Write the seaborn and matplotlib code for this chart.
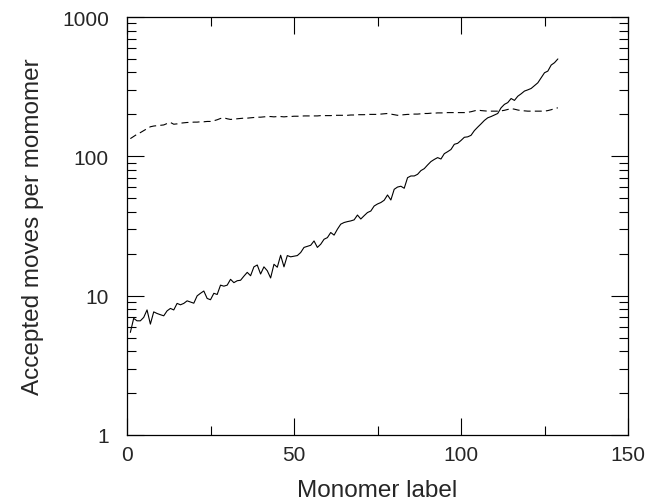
import matplotlib
matplotlib.use("Agg")
import matplotlib.pyplot as plt
import matplotlib.ticker as mticker
import numpy as np
import pandas as pd
import seaborn as sns

# ---- data ----
monomer = list(range(1, 130))

accepted_solid = [
    5.45, 6.87, 6.6, 6.6, 6.98, 7.9, 6.25, 7.65, 7.45, 7.3,
    7.17, 7.78, 8.1, 7.9, 8.8, 8.6, 8.8, 9.18, 9.0, 8.83,
    9.97, 10.4, 10.8, 9.55, 9.35, 10.4, 10.2, 11.9, 11.7, 11.9,
    13.1, 12.4, 12.8, 12.9, 13.8, 14.7, 13.9, 16.1, 16.6, 14.3,
    16.1, 15.1, 13.4, 16.8, 16.0, 19.5, 16.1, 19.4, 19.0, 19.2,
    19.4, 20.4, 22.2, 22.6, 23.0, 24.7, 22.2, 23.4, 25.4, 26.1,
    28.4, 27.2, 30.0, 32.6, 33.5, 34.0, 34.4, 35.0, 37.9, 35.5,
    37.5, 39.5, 40.5, 44.0, 45.5, 46.6, 48.4, 52.8, 48.6, 58.0,
    60.2, 61.0, 59.0, 70.3, 72.3, 72.3, 74.3, 79.0, 81.6, 86.7,
    91.7, 95.0, 97.9, 95.7, 104.5, 108.0, 112.0, 122.0, 124.0, 130.0,
    137.0, 138.0, 141.5, 153.0, 162.0, 171.0, 181.0, 189.0, 193.0, 198.0,
    203.0, 223.0, 236.0, 243.0, 260.0, 252.0, 270.0, 281.0, 294.0, 300.0,
    307.0, 322.0, 337.0, 366.0, 398.0, 409.0, 452.0, 470.0, 500.0,
]

accepted_dashed = [
    134, 139, 144, 148, 153, 158, 163, 165, 166, 167,
    168, 172, 175, 170, 171, 173, 174, 175, 175, 176,
    176, 177, 177, 178, 178, 180, 183, 187, 189, 186,
    184, 185, 186, 187, 188, 188, 189, 190, 191, 191,
    192, 193, 193, 192, 193, 193, 192, 193, 193, 194,
    194, 194, 195, 195, 195, 195, 195, 196, 196, 196,
    196, 197, 197, 197, 197, 197, 198, 198, 199, 199,
    199, 200, 200, 200, 200, 201, 202, 203, 201, 199,
    197, 198, 199, 200, 200, 201, 201, 202, 203, 203,
    204, 204, 205, 205, 205, 206, 206, 206, 206, 206,
    206, 207, 209, 212, 215, 213, 212, 211, 211, 211,
    211, 212, 214, 217, 220, 218, 215, 213, 212, 211,
    211, 211, 211, 211, 211, 213, 216, 220, 223,
]

x_ticks = [0, 50, 100, 150]
y_ticks = [1, 10, 100, 1000]

x_label = "Monomer label"
y_label = "Accepted moves per momomer"

df_solid = pd.DataFrame({"monomer": monomer, "moves": accepted_solid})
df_dashed = pd.DataFrame({"monomer": monomer, "moves": accepted_dashed})

# ---- figure ----
sns.set_style("ticks")
plt.rcParams["font.family"] = ["Liberation Sans", "DejaVu Sans"]
plt.rcParams["lines.scale_dashes"] = False

fig = plt.figure(figsize=(6.57, 5.02), dpi=100)
ax = fig.add_axes([127 / 657, 1 - 436 / 502, (628 - 127) / 657, (436 - 18) / 502])

sns.lineplot(data=df_solid, x="monomer", y="moves", ax=ax, color="black",
             linewidth=0.8)
sns.lineplot(data=df_dashed, x="monomer", y="moves", ax=ax, color="black",
             linewidth=0.8, dashes=False)
ax.lines[-1].set_dashes((5, 3))

ax.set_yscale("log")
ax.set_xlim(0, 150)
ax.set_ylim(1, 1000)

ax.xaxis.set_major_locator(mticker.FixedLocator(x_ticks))
ax.xaxis.set_minor_locator(mticker.MultipleLocator(25))
ax.yaxis.set_major_locator(mticker.FixedLocator(y_ticks))
ax.yaxis.set_minor_locator(mticker.LogLocator(base=10, subs=np.arange(2, 10)))
ax.yaxis.set_major_formatter(mticker.FuncFormatter(lambda v, p: f"{v:g}"))
ax.yaxis.set_minor_formatter(mticker.NullFormatter())

ax.tick_params(which="both", direction="in", top=True, right=True,
               width=0.8, color="black", labelsize=15)
ax.tick_params(axis="x", which="major", length=12.5, pad=7)
ax.tick_params(axis="x", which="minor", length=6.5)
ax.tick_params(axis="y", which="major", length=12.5, pad=13)
ax.tick_params(axis="y", which="minor", length=6.5)

for s in ax.spines.values():
    s.set_visible(True)
    s.set_linewidth(0.9)
    s.set_color("black")

ax.set_xlabel(x_label, fontsize=17.5, labelpad=11)
ax.set_ylabel(y_label, fontsize=17.5, labelpad=13)

fig.savefig("out.png", dpi=100)
